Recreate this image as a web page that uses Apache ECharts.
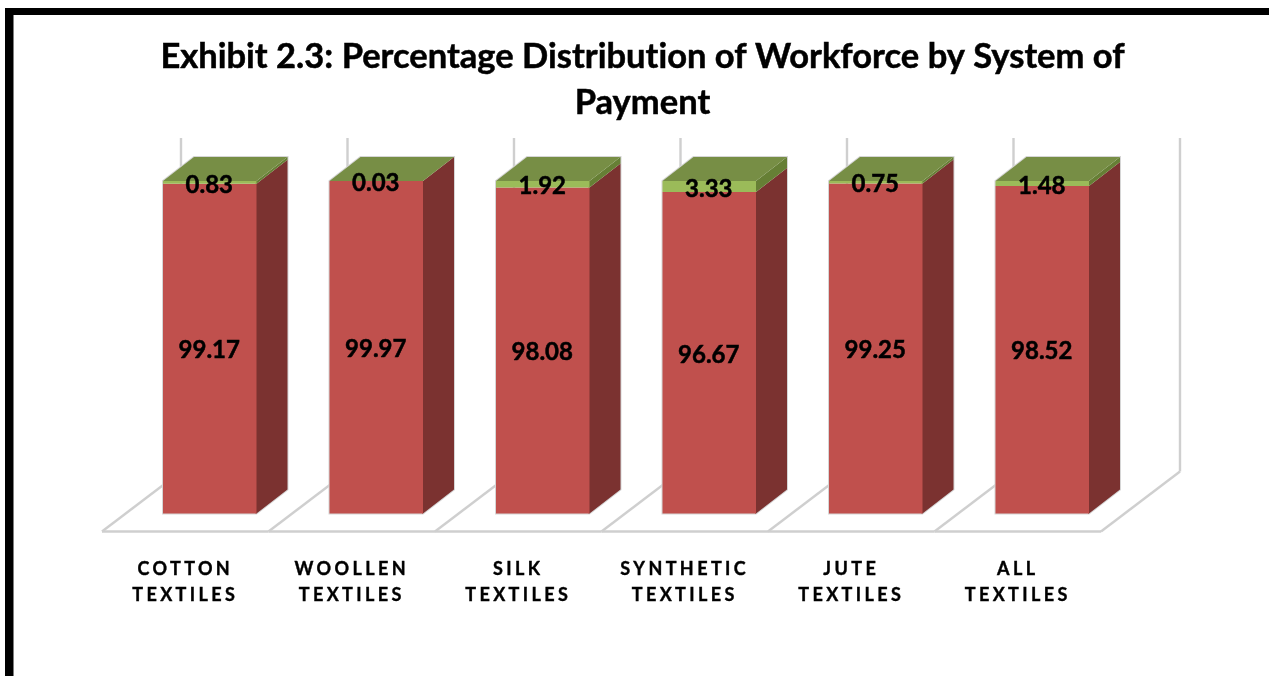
<!DOCTYPE html>
<html>
<head>
<meta charset="utf-8">
<style>html,body{margin:0;padding:0;background:#fff}#c{width:1269px;height:676px}</style>
<script src="https://cdn.jsdelivr.net/npm/echarts@6/dist/echarts.min.js"></script>
</head>
<body>
<div id="c"></div>
<script>
const titleText = 'Exhibit 2.3: Percentage Distribution of Workforce by System of\nPayment';
const categories = ['COTTON\nTEXTILES','WOOLLEN\nTEXTILES','SILK\nTEXTILES','SYNTHETIC\nTEXTILES','JUTE\nTEXTILES','ALL\nTEXTILES'];
const redValues = [99.17, 99.97, 98.08, 96.67, 99.25, 98.52];
const greenValues = [0.83, 0.03, 1.92, 3.33, 0.75, 1.48];

// Category axis labels have wide tracking in the reference; a tiny spacing elsewhere turns off Lato's ligatures
const tracked = new Set(categories.join('\n').split('\n'));
const nativeFillText = CanvasRenderingContext2D.prototype.fillText;
const nativeStrokeText = CanvasRenderingContext2D.prototype.strokeText;
function spacing(ctx, t) { ctx.letterSpacing = tracked.has(t) ? '3.4px' : '0.01px'; }
CanvasRenderingContext2D.prototype.fillText = function (t, x, y, m) {
  spacing(this, t);
  if (m === undefined) nativeFillText.call(this, t, x, y); else nativeFillText.call(this, t, x, y, m);
};
CanvasRenderingContext2D.prototype.strokeText = function (t, x, y, m) {
  spacing(this, t);
  if (m === undefined) nativeStrokeText.call(this, t, x, y); else nativeStrokeText.call(this, t, x, y, m);
};

const BAR_W = 93.5, SHIFT = 24.5, DX = 31, DY = -24;
const FONT = 'Lato, "Open Sans", sans-serif';
const FLOOR_DROP = 18, BACK_DX = 79, BACK_DY = -60, WALL_UP = -43;
const LINE = { stroke: '#cfcfcf', lineWidth: 2.4, fill: null };
const EDGE = '#d6d6d6';

function line(x1, y1, x2, y2) {
  return { type: 'line', shape: { x1, y1, x2, y2 }, style: LINE };
}
function poly(points, fill) {
  return { type: 'polygon', shape: { points }, style: { fill, stroke: null } };
}

function renderFloor(params, api) {
  const c = api.coord([api.value(0), 0]);
  const top = api.coord([api.value(0), 100])[1];
  const band = api.size([1, 0])[0];
  const x = c[0] - band / 2, y = c[1] + FLOOR_DROP;
  const kids = [
    line(x, y, x + BACK_DX, y + BACK_DY),
    line(x + BACK_DX, y + BACK_DY, x + BACK_DX, top + WALL_UP),
    line(x, y, x + band, y)
  ];
  if (params.dataIndex === categories.length - 1) {
    kids.push(line(x + band, y, x + band + BACK_DX, y + BACK_DY));
    kids.push(line(x + band + BACK_DX, y + BACK_DY, x + band + BACK_DX, top + WALL_UP));
  }
  return { type: 'group', children: kids };
}

function barRenderer(front, side, topFace, labelNudge, outline) {
  return function (params, api) {
    const i = api.value(0);
    const p0 = api.coord([i, api.value(1)]);
    const p1 = api.coord([i, api.value(2)]);
    const l = p0[0] + SHIFT - BAR_W / 2, r = l + BAR_W;
    const yb = p0[1], yt = p1[1];
    const kids = [];
    if (outline) {
      const yTop = api.coord([i, 100])[1];
      kids.push({
        type: 'polygon',
        shape: { points: [[l, yb], [r, yb], [r + DX, yb + DY], [r + DX, yTop + DY], [l + DX, yTop + DY], [l, yTop]] },
        style: { fill: null, stroke: EDGE, lineWidth: 2 }
      });
    }
    // side starts under the front face so no seam shows at the shared edge
    kids.push(poly([[r - 1, yb], [r, yb], [r + DX, yb + DY], [r + DX, yt + DY], [r, yt], [r - 1, yt]], side));
    kids.push({ type: 'rect', shape: { x: l, y: yt, width: BAR_W, height: yb - yt }, style: { fill: front } });
    if (topFace) {
      kids.push(poly([[l, yt], [l + DX, yt + DY], [r + DX, yt + DY], [r, yt]], topFace));
    }
    kids.push({
      type: 'text',
      z2: 10,
      style: {
        text: api.value(3).toFixed(2),
        x: l + BAR_W / 2 - 0.5,
        y: (yb + yt) / 2 + labelNudge,
        textAlign: 'center',
        textVerticalAlign: 'middle',
        fill: '#000',
        stroke: '#000',
        lineWidth: 0.5,
        font: 'bold 24px ' + FONT
      }
    });
    return { type: 'group', children: kids };
  };
}

const chart = echarts.init(document.getElementById('c'), null, { renderer: 'canvas', width: 1269, height: 676 });
chart.setOption({
  animation: false,
  backgroundColor: '#fff',
  title: {
    text: titleText,
    left: 637.5,
    top: 29,
    textAlign: 'center',
    textStyle: {
      fontFamily: FONT, fontWeight: 'bold', fontSize: 34.5, lineHeight: 46, color: '#000',
      textBorderColor: '#000', textBorderWidth: 0.5
    }
  },
  grid: { left: 102, width: 999, top: 181, height: 332.5 },
  xAxis: {
    type: 'category',
    data: categories,
    axisLine: { show: false },
    axisTick: { show: false },
    splitLine: { show: false },
    axisLabel: {
      interval: 0, margin: 43, color: '#000',
      fontFamily: FONT, fontWeight: 'bold', fontSize: 18, lineHeight: 26,
      textBorderColor: '#000', textBorderWidth: 0.4
    }
  },
  yAxis: { type: 'value', min: 0, max: 100, show: false, splitLine: { show: false } },
  graphic: [
    { type: 'rect', silent: true, z: 100, shape: { x: 5, y: 8, width: 1264, height: 7 }, style: { fill: '#000' } },
    { type: 'rect', silent: true, z: 100, shape: { x: 5, y: 8, width: 8.5, height: 668 }, style: { fill: '#000' } }
  ],
  series: [
    {
      name: 'Floor', type: 'custom', clip: false, z: 1,
      renderItem: renderFloor,
      encode: { x: 0 },
      data: categories.map((_, i) => [i])
    },
    {
      name: 'Red', type: 'custom', clip: false, z: 2,
      renderItem: barRenderer('#c0504d', '#7b3230', null, 2, true),
      encode: { x: 0, y: [1, 2] },
      data: redValues.map((v, i) => [i, 0, v, v])
    },
    {
      name: 'Green', type: 'custom', clip: false, z: 3,
      renderItem: barRenderer('#9bbb59', '#667f35', '#778e45', 2.5, false),
      encode: { x: 0, y: [1, 2] },
      data: greenValues.map((v, i) => [i, redValues[i], redValues[i] + v, v])
    }
  ]
});
</script>
</body>
</html>
